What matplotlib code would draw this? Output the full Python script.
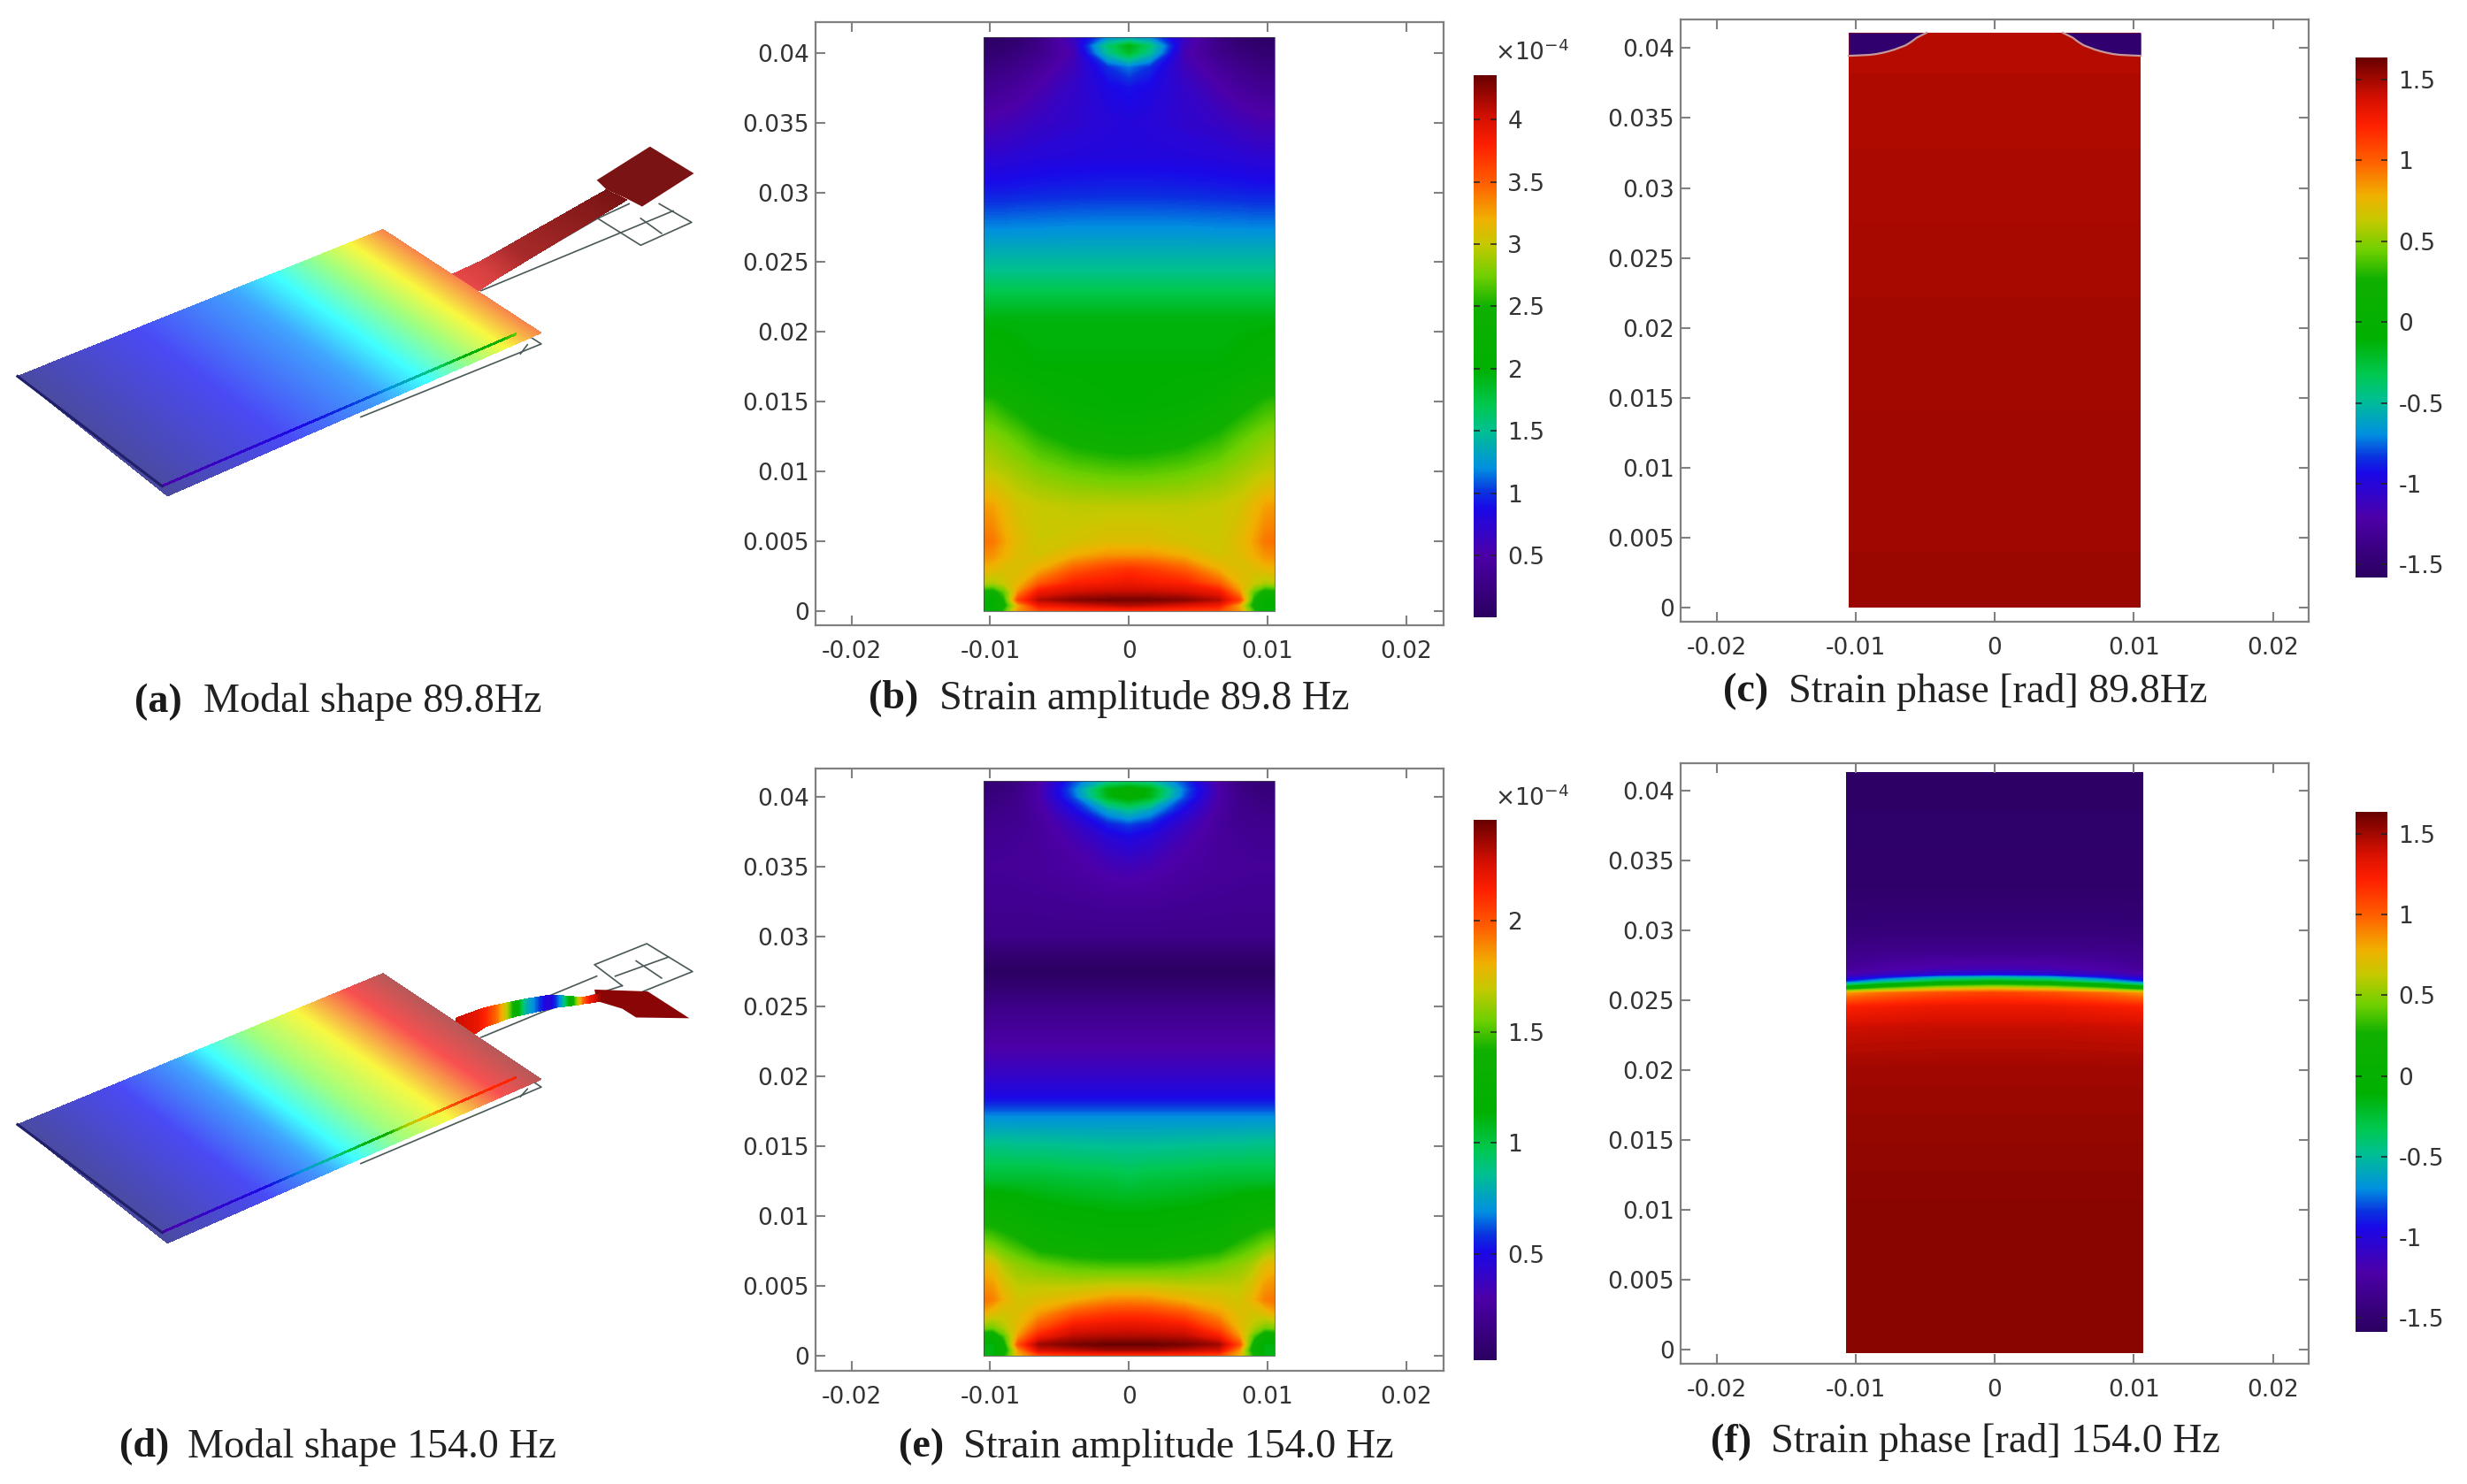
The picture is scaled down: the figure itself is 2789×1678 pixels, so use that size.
from __future__ import annotations

import matplotlib

matplotlib.use("Agg")
import matplotlib.pyplot as plt
import numpy as np
from matplotlib.cm import ScalarMappable
from matplotlib.colors import LinearSegmentedColormap, Normalize
from matplotlib.patches import Rectangle

FIG_W, FIG_H = 2789, 1678

X_TICKS = [-0.02, -0.01, 0, 0.01, 0.02]
X_TICK_LABELS = ["-0.02", "-0.01", "0", "0.01", "0.02"]
Y_TICKS = [0, 0.005, 0.01, 0.015, 0.02, 0.025, 0.03, 0.035, 0.04]
Y_TICK_LABELS = ["0", "0.005", "0.01", "0.015", "0.02", "0.025", "0.03", "0.035", "0.04"]

AMP_TICKS_B = [0.5, 1, 1.5, 2, 2.5, 3, 3.5, 4]
AMP_LABELS_B = ["0.5", "1", "1.5", "2", "2.5", "3", "3.5", "4"]
AMP_TICKS_E = [0.5, 1, 1.5, 2]
AMP_LABELS_E = ["0.5", "1", "1.5", "2"]
PHASE_TICKS = [-1.5, -1, -0.5, 0, 0.5, 1, 1.5]
PHASE_LABELS = ["-1.5", "-1", "-0.5", "0", "0.5", "1", "1.5"]

RAINBOW_POS = [0, 0.115, 0.2, 0.23, 0.275, 0.344, 0.39, 0.46, 0.574, 0.63, 0.69, 0.735, 0.80, 0.87, 0.92, 1]
RAINBOW_COL = ["#2a0060", "#4c00a8", "#1a08e8", "#0a30e0", "#0090e0", "#00c090", "#00c850", "#00b000",
               "#10b000", "#70d000", "#c8c800", "#f0b000", "#ff6000", "#ff2000", "#d81000", "#680000"]
SHAPE_POS = [0, 0.2, 0.4, 0.5, 0.6, 0.7, 0.85, 1]
SHAPE_COL = ["#4a4aa0", "#4a4af5", "#40a8ff", "#40ffff", "#a0ff80", "#f8f840", "#f85050", "#b85858"]

# half width of the strip, edge to centre, mirrored when drawn
AMP_COLS = [-0.0105, -0.0098, -0.009, -0.008, -0.0065, -0.004, -0.0015, 0]

AMP_B_ROWS = [0, 0.0004, 0.0008, 0.0014, 0.002, 0.003, 0.004, 0.005, 0.0075, 0.01, 0.0125, 0.015, 0.0175,
              0.021, 0.023, 0.0245, 0.026, 0.0275, 0.03, 0.0325, 0.035, 0.0375, 0.039, 0.04, 0.0405, 0.0411]
AMP_B = [
    [1.9, 2.0, 2.6, 3.3, 3.55, 3.6, 3.65, 3.65],
    [2.0, 2.1, 2.4, 3.2, 3.85, 3.95, 4.05, 4.1],
    [2.2, 2.05, 2.5, 3.6, 4.1, 4.25, 4.3, 4.3],
    [2.5, 2.4, 2.7, 3.3, 3.85, 4.0, 4.05, 4.05],
    [3.0, 2.9, 3.0, 3.15, 3.5, 3.8, 3.85, 3.9],
    [3.2, 3.15, 3.1, 3.1, 3.2, 3.5, 3.65, 3.7],
    [3.35, 3.3, 3.2, 3.1, 3.05, 3.2, 3.3, 3.3],
    [3.45, 3.4, 3.25, 3.12, 3.02, 3.05, 3.1, 3.1],
    [3.3, 3.25, 3.15, 3.05, 3.0, 2.97, 2.97, 2.97],
    [3.0, 2.97, 2.93, 2.88, 2.8, 2.72, 2.68, 2.67],
    [2.85, 2.8, 2.75, 2.68, 2.55, 2.42, 2.35, 2.33],
    [2.6, 2.55, 2.48, 2.4, 2.25, 2.1, 2.03, 2.0],
    [2.2, 2.15, 2.1, 2.05, 2.0, 2.0, 2.0, 2.0],
    [1.95, 1.95, 1.95, 1.95, 1.95, 1.95, 1.95, 1.95],
    [1.7, 1.7, 1.7, 1.7, 1.7, 1.7, 1.7, 1.7],
    [1.5, 1.5, 1.5, 1.5, 1.5, 1.5, 1.5, 1.5],
    [1.35, 1.35, 1.35, 1.35, 1.35, 1.35, 1.35, 1.35],
    [1.18, 1.18, 1.18, 1.19, 1.19, 1.2, 1.2, 1.2],
    [0.94, 0.94, 0.94, 0.95, 0.96, 0.97, 0.98, 0.98],
    [0.74, 0.74, 0.75, 0.77, 0.79, 0.81, 0.82, 0.82],
    [0.55, 0.55, 0.57, 0.6, 0.66, 0.72, 0.78, 0.8],
    [0.35, 0.35, 0.38, 0.42, 0.52, 0.68, 0.85, 0.9],
    [0.22, 0.22, 0.25, 0.3, 0.4, 0.6, 1.0, 1.15],
    [0.12, 0.12, 0.15, 0.2, 0.3, 0.55, 1.5, 1.85],
    [0.08, 0.08, 0.1, 0.15, 0.28, 0.6, 1.6, 1.95],
    [0.05, 0.05, 0.08, 0.12, 0.25, 0.65, 1.2, 1.3],
]

AMP_E_ROWS = [0, 0.0004, 0.0008, 0.0014, 0.002, 0.003, 0.004, 0.005, 0.0065, 0.008, 0.01, 0.0125, 0.015,
              0.017, 0.0185, 0.02, 0.0225, 0.025, 0.0265, 0.0275, 0.0285, 0.03, 0.033, 0.035, 0.037, 0.038,
              0.039, 0.04, 0.0405, 0.0411]
AMP_E = [
    [1.05, 1.1, 1.4, 1.8, 2.0, 2.05, 2.05, 2.05],
    [1.1, 1.1, 1.3, 1.85, 2.25, 2.3, 2.35, 2.35],
    [1.15, 1.1, 1.35, 2.0, 2.35, 2.42, 2.45, 2.45],
    [1.3, 1.25, 1.5, 1.85, 2.15, 2.3, 2.32, 2.32],
    [1.6, 1.55, 1.65, 1.78, 2.0, 2.2, 2.23, 2.24],
    [1.85, 1.75, 1.72, 1.75, 1.85, 2.0, 2.07, 2.08],
    [1.95, 1.9, 1.8, 1.72, 1.75, 1.8, 1.87, 1.88],
    [1.9, 1.85, 1.75, 1.68, 1.68, 1.68, 1.7, 1.7],
    [1.8, 1.75, 1.65, 1.6, 1.55, 1.5, 1.48, 1.48],
    [1.6, 1.55, 1.5, 1.45, 1.35, 1.3, 1.27, 1.27],
    [1.35, 1.33, 1.3, 1.27, 1.2, 1.17, 1.15, 1.15],
    [1.05, 1.05, 1.05, 1.05, 1.05, 1.03, 1.02, 1.0],
    [0.88, 0.88, 0.88, 0.87, 0.87, 0.86, 0.85, 0.85],
    [0.7, 0.7, 0.7, 0.7, 0.7, 0.7, 0.7, 0.7],
    [0.5, 0.5, 0.5, 0.5, 0.5, 0.5, 0.5, 0.5],
    [0.4, 0.4, 0.4, 0.4, 0.4, 0.4, 0.4, 0.4],
    [0.28, 0.28, 0.28, 0.28, 0.28, 0.28, 0.28, 0.28],
    [0.18, 0.18, 0.18, 0.18, 0.18, 0.18, 0.18, 0.18],
    [0.08, 0.08, 0.08, 0.08, 0.08, 0.08, 0.08, 0.08],
    [0.03, 0.03, 0.03, 0.03, 0.03, 0.03, 0.03, 0.03],
    [0.08, 0.08, 0.08, 0.08, 0.08, 0.08, 0.08, 0.08],
    [0.18, 0.18, 0.18, 0.18, 0.18, 0.18, 0.18, 0.18],
    [0.22, 0.22, 0.22, 0.22, 0.23, 0.24, 0.26, 0.26],
    [0.24, 0.24, 0.24, 0.25, 0.25, 0.28, 0.33, 0.35],
    [0.22, 0.22, 0.22, 0.23, 0.25, 0.33, 0.44, 0.48],
    [0.2, 0.2, 0.2, 0.21, 0.25, 0.38, 0.55, 0.6],
    [0.17, 0.17, 0.18, 0.2, 0.27, 0.48, 0.75, 0.85],
    [0.14, 0.14, 0.15, 0.18, 0.3, 0.62, 1.1, 1.2],
    [0.12, 0.12, 0.13, 0.17, 0.3, 0.65, 1.12, 1.2],
    [0.1, 0.1, 0.12, 0.15, 0.28, 0.6, 0.85, 0.9],
]

PHASE_C_COLS = [-0.0105, 0]
PHASE_C_ROWS = [0, 0.02, 0.0411]
PHASE_C = [[1.52, 1.52], [1.5, 1.5], [1.46, 1.46]]
CORNER_X = [-0.0105, -0.0098, -0.009, -0.0085, -0.008, -0.0076, -0.0072, -0.0068, -0.0064, -0.006, -0.0056, -0.0052, -0.0049]
CORNER_Y = [0.03945, 0.03948, 0.03952, 0.03958, 0.03968, 0.03978, 0.0399, 0.04005, 0.0402, 0.04045, 0.04075, 0.04095, 0.0411]
CORNER_VALUE = -1.5

PHASE_F_COLS = [-0.0107, -0.008, -0.004, 0]
PHASE_F_ROWS = [-0.00025, 0.01, 0.02, 0.023, 0.0245, 0.0255, 0.0258, 0.0261, 0.0263, 0.0266, 0.0268, 0.0272,
                0.0285, 0.03, 0.033, 0.0413]
PHASE_F = [
    [1.56, 1.56, 1.56, 1.56],
    [1.56, 1.56, 1.56, 1.56],
    [1.51, 1.51, 1.51, 1.51],
    [1.4, 1.41, 1.42, 1.42],
    [1.22, 1.26, 1.3, 1.3],
    [0.8, 0.95, 1.05, 1.1],
    [0.1, 0.45, 0.68, 0.75],
    [-0.5, -0.1, 0.2, 0.3],
    [-0.9, -0.5, -0.2, -0.1],
    [-1.1, -0.9, -0.6, -0.5],
    [-1.2, -1.1, -1.0, -0.95],
    [-1.3, -1.22, -1.17, -1.15],
    [-1.38, -1.36, -1.35, -1.35],
    [-1.46, -1.45, -1.45, -1.45],
    [-1.52, -1.52, -1.52, -1.52],
    [-1.55, -1.55, -1.55, -1.55],
]

# deformed plate geometry, read in crop coordinates of the two crops
PLATE_A = [38, 662]
PLATE_B = [828, 290]
PLATE_C = [1170, 552]
PLATE_D = [362, 965]
SHAPE_A_S = [0, 0.33, 0.55, 0.7, 0.82, 0.91, 1]
SHAPE_A_T = [0, 0.2, 0.36, 0.5, 0.6, 0.7, 0.8]
EDGE_A_START = [350, 940]
EDGE_A_END = [1115, 555]
EDGE_A_S = [0, 0.4, 0.6, 0.75, 0.9, 1]
EDGE_A_V = [0.12, 0.2, 0.25, 0.35, 0.5, 0.62]
BEAM_A_TOP_X = [975, 1040, 1310]
BEAM_A_TOP_Y = [405, 370, 190]
BEAM_A_BOT_X = [1035, 1080, 1355]
BEAM_A_BOT_Y = [445, 410, 215]
BEAM_A_COL = ["#e84848", "#a82a2a", "#7a1414"]
PAD_A_X = [1290, 1405, 1500, 1388, 1355, 1312]
PAD_A_Y = [165, 80, 148, 232, 212, 190]
PAD_A_COL = "#7a1414"
WIRE_A = [
    ([1040, 1455], [445, 243]),
    ([1170, 1292], [345, 262]),
    ([1292, 1385, 1495, 1425], [262, 330, 272, 225]),
    ([1292, 1360], [262, 225]),
    ([1385, 1430], [262, 300]),
    ([780, 1170, 1150], [765, 580, 565]),
    ([1125, 1140], [605, 582]),
]

PLATE_D_A = [38, 628]
PLATE_D_B = [828, 233]
PLATE_D_C = [1170, 510]
PLATE_D_D = [362, 938]
SHAPE_D_S = [0, 0.27, 0.4, 0.51, 0.63, 0.76, 0.9, 1]
SHAPE_D_T = [0, 0.2, 0.35, 0.5, 0.6, 0.7, 0.85, 1]
EDGE_D_START = [350, 910]
EDGE_D_END = [1115, 505]
EDGE_D_S = [0, 0.3, 0.46, 0.6, 0.69, 0.85, 1]
EDGE_D_V = [0.12, 0.2, 0.33, 0.47, 0.67, 0.85, 0.87]
BEAM_D_X = [985, 1030, 1050, 1075, 1095, 1115, 1135, 1160, 1185, 1200, 1215, 1235, 1250, 1262, 1275, 1300]
BEAM_D_TOP = [350, 330, 322, 315, 310, 305, 300, 295, 290, 290, 291, 293, 295, 295, 292, 285]
BEAM_D_BOT = [410, 388, 372, 362, 352, 345, 340, 333, 327, 322, 320, 317, 315, 312, 310, 305]
BEAM_D_V = [0.93, 0.9, 0.86, 0.78, 0.68, 0.5, 0.33, 0.25, 0.17, 0.22, 0.3, 0.5, 0.68, 0.8, 0.88, 0.97]
PAD_D_X = [1285, 1400, 1490, 1375, 1345, 1290]
PAD_D_Y = [275, 280, 350, 348, 325, 305]
PAD_D_COL = "#8a0505"
WIRE_D = [
    ([1040, 1180, 1345], [400, 330, 265]),
    ([1190, 1290], [290, 240]),
    ([1345, 1285, 1398, 1497, 1390], [265, 210, 155, 228, 280]),
    ([1330, 1445], [240, 190]),
    ([1375, 1430], [200, 245]),
    ([780, 1170, 1145], [730, 530, 510]),
    ([1125, 1140], [555, 535]),
]

CAPTIONS = [
    ("(a)", "Modal shape 89.8Hz", 152, 230, 794),
    ("(b)", "Strain amplitude 89.8 Hz", 982, 1062, 790),
    ("(c)", "Strain phase [rad] 89.8Hz", 1948, 2022, 782),
    ("(d)", "Modal shape 154.0 Hz", 135, 212, 1636),
    ("(e)", "Strain amplitude 154.0 Hz", 1016, 1089, 1636),
    ("(f)", "Strain phase [rad] 154.0 Hz", 1934, 2002, 1631),
]


def make_cmap(name: str, pos: list[float], col: list[str]) -> LinearSegmentedColormap:
    return LinearSegmentedColormap.from_list(name, list(zip(pos, col)), N=512)


RAINBOW = make_cmap("comsol_rainbow", RAINBOW_POS, RAINBOW_COL)
SHAPE = make_cmap("shape_rainbow", SHAPE_POS, SHAPE_COL)


def px_axes(fig, left, top, right, bottom, **kwargs):
    return fig.add_axes(
        [left / FIG_W, 1 - bottom / FIG_H, (right - left) / FIG_W, (bottom - top) / FIG_H], **kwargs
    )


def style_field_axes(ax, xlim, ylim):
    ax.set_xlim(*xlim)
    ax.set_ylim(*ylim)
    ax.set_xticks(X_TICKS)
    ax.set_xticklabels(X_TICK_LABELS)
    ax.set_yticks(Y_TICKS)
    ax.set_yticklabels(Y_TICK_LABELS)
    ax.tick_params(axis="x", direction="in", length=8, width=1.5, color="#808080", top=True,
                   pad=12, labelsize=19, labelcolor="#333333")
    ax.tick_params(axis="y", direction="in", length=8, width=1.5, color="#808080", right=True,
                   pad=5, labelsize=19, labelcolor="#333333")
    for spine in ax.spines.values():
        spine.set_color("#808080")
        spine.set_linewidth(1.6)


def draw_field(ax, cols, rows, table, vmin, vmax):
    z = np.array(table, dtype=float)
    half = np.array(cols, dtype=float)
    x = np.concatenate([half, -half[-2::-1]])
    z = np.concatenate([z, z[:, -2::-1]], axis=1)
    y = np.array(rows, dtype=float)
    box = Rectangle((x[0], y[0]), x[-1] - x[0], y[-1] - y[0], transform=ax.transData)
    # the mesh runs a little past the strip and is clipped back, so its sides stay straight
    x_mesh = x.copy()
    x_mesh[0] -= 0.0006
    x_mesh[-1] += 0.0006
    levels = np.linspace(vmin, vmax, 320)
    cs = ax.contourf(x_mesh, y, z, levels=levels, cmap=RAINBOW, extend="both")
    cs.set_clip_path(box)


def draw_colorbar(fig, box, vmin, vmax, ticks, labels):
    cax = px_axes(fig, *box)
    sm = ScalarMappable(norm=Normalize(vmin, vmax), cmap=RAINBOW)
    cbar = fig.colorbar(sm, cax=cax)
    cbar.outline.set_visible(False)
    cbar.set_ticks(ticks)
    cbar.set_ticklabels(labels)
    cax.tick_params(axis="y", direction="in", left=True, right=True, length=5, width=1.1,
                    color="#222222", pad=9, labelsize=19, labelcolor="#333333")
    return cax


def crop_px(x, y, y_origin, y_scale):
    return np.array(x) * 0.523, y_origin + np.array(y) * y_scale


def draw_plate(ax, corners, s_list, t_list, y_origin, y_scale):
    a, b, c, d = [np.array(p, dtype=float) for p in corners]
    s = np.array(s_list)[:, None]
    near = a + s * (b - a)
    far = d + s * (c - d)
    xx, yy = crop_px(np.stack([near[:, 0], far[:, 0]]), np.stack([near[:, 1], far[:, 1]]), y_origin, y_scale)
    tt = np.stack([t_list, t_list])
    ax.contourf(xx, yy, tt, levels=np.linspace(0, 1, 200), cmap=SHAPE, extend="both", zorder=3)


def draw_edge(ax, start, end, s_list, v_list, y_origin, y_scale):
    start = np.array(start, dtype=float)
    end = np.array(end, dtype=float)
    s = np.array(s_list)[:, None]
    mid = start + s * (end - start)
    xx, yy = crop_px(np.stack([mid[:, 0], mid[:, 0]]), np.stack([mid[:, 1] - 2.2, mid[:, 1] + 2.2]), y_origin, y_scale)
    vv = np.stack([v_list, v_list])
    ax.contourf(xx, yy, vv, levels=np.linspace(0, 1, 200), cmap=RAINBOW, extend="both", zorder=4)


def draw_wires(ax, wires, y_origin, y_scale):
    for wx, wy in wires:
        px, py = crop_px(wx, wy, y_origin, y_scale)
        ax.plot(px, py, color="#4a5858", lw=1.2, zorder=2)


def draw_shapes(fig):
    ax = px_axes(fig, 0, 0, FIG_W, FIG_H, zorder=0)
    ax.set_xlim(0, FIG_W)
    ax.set_ylim(FIG_H, 0)
    ax.axis("off")

    # panel a
    oa, sa = 130, 0.4464
    draw_wires(ax, WIRE_A, oa, sa)
    px, py = crop_px(PAD_A_X, PAD_A_Y, oa, sa)
    ax.fill(px, py, color=PAD_A_COL, lw=0, zorder=2.5)
    tx, ty = crop_px(BEAM_A_TOP_X, BEAM_A_TOP_Y, oa, sa)
    bx, by = crop_px(BEAM_A_BOT_X, BEAM_A_BOT_Y, oa, sa)
    beam_cmap = make_cmap("beam_a", [0, 0.3, 1], BEAM_A_COL)
    ax.contourf(np.stack([tx, bx]), np.stack([ty, by]), np.stack([[0, 0.1, 1], [0, 0.1, 1]]),
                levels=np.linspace(0, 1, 100), cmap=beam_cmap, zorder=2.6)
    draw_plate(ax, [PLATE_A, PLATE_B, PLATE_C, PLATE_D], SHAPE_A_S, SHAPE_A_T, oa, sa)
    draw_edge(ax, EDGE_A_START, EDGE_A_END, EDGE_A_S, EDGE_A_V, oa, sa)
    lx, ly = crop_px([PLATE_A[0], EDGE_A_START[0]], [PLATE_A[1], EDGE_A_START[1]], oa, sa)
    ax.plot(lx, ly, color="#20206a", lw=2.2, zorder=4)

    # panel d
    od, sd = 1000, 0.4324
    draw_wires(ax, WIRE_D, od, sd)
    px, py = crop_px(PAD_D_X, PAD_D_Y, od, sd)
    ax.fill(px, py, color=PAD_D_COL, lw=0, zorder=2.5)
    tx, ty = crop_px(BEAM_D_X, BEAM_D_TOP, od, sd)
    bx, by = crop_px(BEAM_D_X, BEAM_D_BOT, od, sd)
    ax.contourf(np.stack([tx, bx]), np.stack([ty, by]), np.stack([BEAM_D_V, BEAM_D_V]),
                levels=np.linspace(0, 1, 200), cmap=RAINBOW, zorder=2.6)
    draw_plate(ax, [PLATE_D_A, PLATE_D_B, PLATE_D_C, PLATE_D_D], SHAPE_D_S, SHAPE_D_T, od, sd)
    draw_edge(ax, EDGE_D_START, EDGE_D_END, EDGE_D_S, EDGE_D_V, od, sd)
    lx, ly = crop_px([PLATE_D_A[0], EDGE_D_START[0]], [PLATE_D_A[1], EDGE_D_START[1]], od, sd)
    ax.plot(lx, ly, color="#20206a", lw=2.2, zorder=4)


def draw_captions(fig):
    for tag, text, x_tag, x_text, y in CAPTIONS:
        fig.text(x_tag / FIG_W, 1 - y / FIG_H, tag, family="Liberation Serif", weight="bold",
                 fontsize=33.2, color="#1a1a1a", va="center", ha="left")
        fig.text(x_text / FIG_W, 1 - y / FIG_H, text, family="Liberation Serif",
                 fontsize=33.2, color="#222222", va="center", ha="left")


def main() -> None:
    fig = plt.figure(figsize=(FIG_W / 100, FIG_H / 100), dpi=100, facecolor="white")
    draw_shapes(fig)

    # b: strain amplitude 89.8 Hz
    ax = px_axes(fig, 922, 25, 1632, 707)
    draw_field(ax, AMP_COLS, AMP_B_ROWS, AMP_B, 0.005, 4.356)
    ax.plot([-0.0105, -0.0105, 0.0105, 0.0105, -0.0105], [0, 0.0411, 0.0411, 0, 0], color="#444444", lw=0.8, alpha=0.7)
    style_field_axes(ax, (-0.0226, 0.0227), (-0.00101, 0.0422))
    draw_colorbar(fig, (1666, 85, 1692, 698), 0.005, 4.356, AMP_TICKS_B, AMP_LABELS_B)
    fig.text(1690 / FIG_W, 1 - 60 / FIG_H, r"$\mathregular{\times 10^{-4}}$", fontsize=19, color="#333333", va="center")

    # c: strain phase 89.8 Hz
    ax = px_axes(fig, 1900, 22, 2610, 703)
    draw_field(ax, PHASE_C_COLS, PHASE_C_ROWS, PHASE_C, -1.58, 1.637)
    corner = RAINBOW(Normalize(-1.58, 1.637)(CORNER_VALUE))
    cx = np.array(CORNER_X)
    cy = np.array(CORNER_Y)
    for sign in (1, -1):
        ax.fill_between(sign * cx, cy, 0.0411, color=corner, lw=0, zorder=3)
        ax.plot(sign * cx, cy, color="#c89898", lw=1.6, zorder=4)
    style_field_axes(ax, (-0.02258, 0.02257), (-0.00101, 0.04205))
    draw_colorbar(fig, (2663, 65, 2699, 653), -1.58, 1.637, PHASE_TICKS, PHASE_LABELS)

    # e: strain amplitude 154.0 Hz
    ax = px_axes(fig, 922, 869, 1632, 1550)
    draw_field(ax, AMP_COLS, AMP_E_ROWS, AMP_E, 0.022, 2.454)
    ax.plot([-0.0105, -0.0105, 0.0105, 0.0105, -0.0105], [0, 0.0411, 0.0411, 0, 0], color="#444444", lw=0.8, alpha=0.7)
    style_field_axes(ax, (-0.0226, 0.0227), (-0.00108, 0.0420))
    draw_colorbar(fig, (1666, 927, 1692, 1538), 0.022, 2.454, AMP_TICKS_E, AMP_LABELS_E)
    fig.text(1690 / FIG_W, 1 - 903 / FIG_H, r"$\mathregular{\times 10^{-4}}$", fontsize=19, color="#333333", va="center")

    # f: strain phase 154.0 Hz
    ax = px_axes(fig, 1900, 863, 2610, 1542)
    draw_field(ax, PHASE_F_COLS, PHASE_F_ROWS, PHASE_F, -1.58, 1.637)
    style_field_axes(ax, (-0.02258, 0.02257), (-0.00101, 0.04193))
    draw_colorbar(fig, (2663, 918, 2699, 1506), -1.585, 1.637, PHASE_TICKS, PHASE_LABELS)

    draw_captions(fig)
    fig.savefig("out.png", dpi=100, facecolor="white")
    plt.close(fig)


if __name__ == "__main__":
    main()
